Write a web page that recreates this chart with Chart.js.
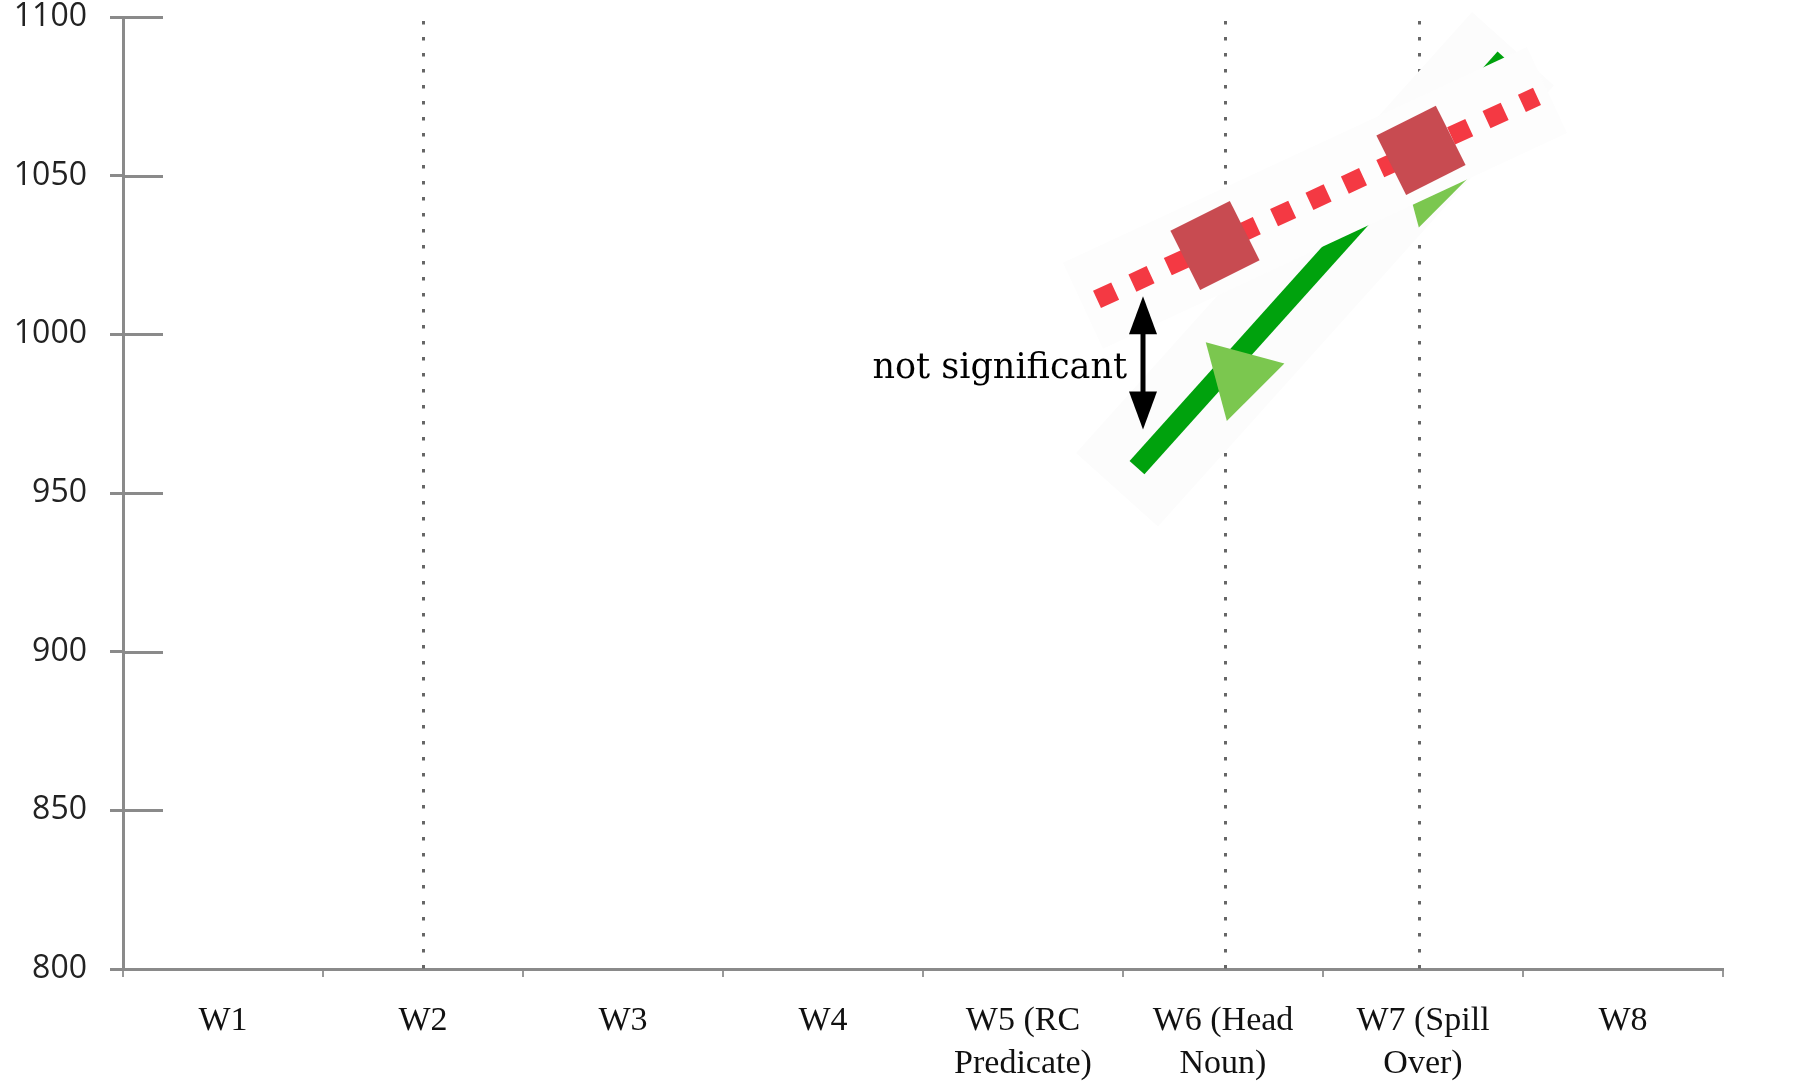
<!DOCTYPE html>
<html><head><meta charset="utf-8">
<script src="https://cdn.jsdelivr.net/npm/chart.js@4.4.1/dist/chart.umd.min.js"></script>
<style>html,body{margin:0;padding:0;background:#fff;}#wrap{width:1808px;height:1084px;position:relative;}canvas{display:block;}</style>
</head><body><div id="wrap"><canvas id="c" width="1808" height="1084"></canvas></div>
<script>
// ---- data ----
const categories = ['W1', 'W2', 'W3', 'W4', ['W5 (RC', 'Predicate)'], ['W6 (Head', 'Noun)'], ['W7 (Spill', 'Over)'], 'W8'];
const yTicks = [800, 850, 900, 950, 1000, 1050, 1100];
const dottedColumns = [2, 6.01, 6.98];

// red (dotted) condition
const redLineX = [5.37, 7.57];
const redLineY = [1011, 1075];
const redMarkerX = [5.96, 6.99];
const redMarkerY = [1028, 1058];
const redPatchX = [5.3, 7.62];
const redPatchY = [1009, 1077];

// green (solid) condition
const greenLineX = [5.57, 7.41];
const greenLineY = [958, 1087];
const greenMarkerX = [6.08, 7.04];
const greenMarkerY = [987, 1048];
const greenPatchX = [5.47, 7.45];
const greenPatchY = [951, 1090];

// annotation
const noteText = 'not significant';
const noteX = [5.52];
const noteY = [989];
const arrowX = [5.6];
const arrowY = [1012, 970];

const pts = (xs, ys) => xs.map((x, i) => ({ x: x, y: ys[i] }));

const decor = {
  id: 'decor',
  beforeDatasetsDraw(chart) {
    const { ctx, chartArea: a, scales } = chart;
    const x2 = scales.x2, y = scales.y;
    ctx.save();
    ctx.strokeStyle = '#8a8a8a';
    ctx.lineWidth = 3;
    yTicks.forEach(v => {
      const py = Math.round(y.getPixelForValue(v)) + 0.5;
      ctx.beginPath(); ctx.moveTo(a.left, py); ctx.lineTo(a.left + 40, py); ctx.stroke();
    });
    ctx.strokeStyle = '#666';
    ctx.lineWidth = 3;
    ctx.setLineDash([3.5, 12.5]);
    dottedColumns.forEach(v => {
      const px = Math.round(x2.getPixelForValue(v)) + 0.5;
      ctx.beginPath(); ctx.moveTo(px, a.top + 4); ctx.lineTo(px, a.bottom); ctx.stroke();
    });
    ctx.restore();
  },
  afterDatasetsDraw(chart) {
    const { ctx, scales } = chart;
    const x2 = scales.x2, y = scales.y;
    ctx.save();
    const px = x2.getPixelForValue(arrowX[0]);
    const y1 = y.getPixelForValue(arrowY[0]);
    const y2 = y.getPixelForValue(arrowY[1]);
    const head = 38, hw = 14;
    ctx.fillStyle = '#000';
    ctx.strokeStyle = '#000';
    ctx.lineWidth = 5;
    ctx.beginPath(); ctx.moveTo(px, y1 + head - 2); ctx.lineTo(px, y2 - head + 2); ctx.stroke();
    ctx.beginPath(); ctx.moveTo(px, y1); ctx.lineTo(px - hw, y1 + head); ctx.lineTo(px + hw, y1 + head); ctx.closePath(); ctx.fill();
    ctx.beginPath(); ctx.moveTo(px, y2); ctx.lineTo(px - hw, y2 - head); ctx.lineTo(px + hw, y2 - head); ctx.closePath(); ctx.fill();
    ctx.font = '35px "DejaVu Serif"';
    ctx.textAlign = 'right';
    ctx.textBaseline = 'middle';
    ctx.fillText(noteText, x2.getPixelForValue(noteX[0]), y.getPixelForValue(noteY[0]));
    ctx.restore();
  }
};

new Chart(document.getElementById('c'), {
  type: 'line',
  data: {
    labels: categories,
    datasets: [
      { label: 'green patch', xAxisID: 'x2', data: pts(greenPatchX, greenPatchY), borderColor: '#fcfcfc', borderWidth: 110, pointRadius: 0, order: 6, clip: false },
      { label: 'green', xAxisID: 'x2', data: pts(greenLineX, greenLineY), borderColor: '#00a20d', borderWidth: 20, pointRadius: 0, order: 5, clip: false },
      { label: 'green markers', xAxisID: 'x2', data: pts(greenMarkerX, greenMarkerY), showLine: false, pointStyle: 'triangle', pointRadius: 47, pointRotation: -45, pointBackgroundColor: '#7bc74f', pointBorderWidth: 0, order: 4, clip: false },
      { label: 'red patch', xAxisID: 'x2', data: pts(redPatchX, redPatchY), borderColor: '#fdfdfd', borderWidth: 95, pointRadius: 0, order: 3, clip: false },
      { label: 'red', xAxisID: 'x2', data: pts(redLineX, redLineY), borderColor: '#f43943', borderWidth: 19, borderDash: [20, 19], pointRadius: 0, order: 2, clip: false },
      { label: 'red markers', xAxisID: 'x2', data: pts(redMarkerX, redMarkerY), showLine: false, pointStyle: 'rect', pointRadius: 47, pointRotation: -26.6, pointBackgroundColor: '#c84b51', pointBorderWidth: 0, order: 1, clip: false }
    ]
  },
  options: {
    responsive: false,
    animation: false,
    events: [],
    layout: { autoPadding: false, padding: { top: 17, left: 13, right: 85, bottom: 1 } },
    plugins: { legend: { display: false }, tooltip: { enabled: false } },
    scales: {
      x: {
        type: 'category',
        offset: true,
        afterFit: s => { s.height = 114; s.paddingLeft = 0; s.paddingRight = 0; },
        grid: { offset: true, drawOnChartArea: false, tickLength: 8, color: '#999', lineWidth: 2 },
        border: { color: '#8a8a8a', width: 3 },
        ticks: { font: { family: 'Liberation Serif', size: 34, lineHeight: 1.26 }, color: '#111', padding: 23, maxRotation: 0, autoSkip: false }
      },
      x2: { type: 'linear', display: false, min: 0.5, max: 8.5 },
      y: {
        type: 'linear', min: 800, max: 1100,
        afterBuildTicks: s => { s.ticks = yTicks.map(v => ({ value: v })); },
        afterFit: s => { s.width = 110; s.paddingTop = 0; s.paddingBottom = 0; },
        grid: { drawOnChartArea: false, tickLength: 13, color: '#8a8a8a', lineWidth: 3 },
        border: { color: '#8a8a8a', width: 3 },
        ticks: { font: { family: 'Open Sans', size: 32 }, color: '#222', padding: 23, callback: v => String(v) }
      }
    }
  },
  plugins: [decor]
});
</script></body></html>
